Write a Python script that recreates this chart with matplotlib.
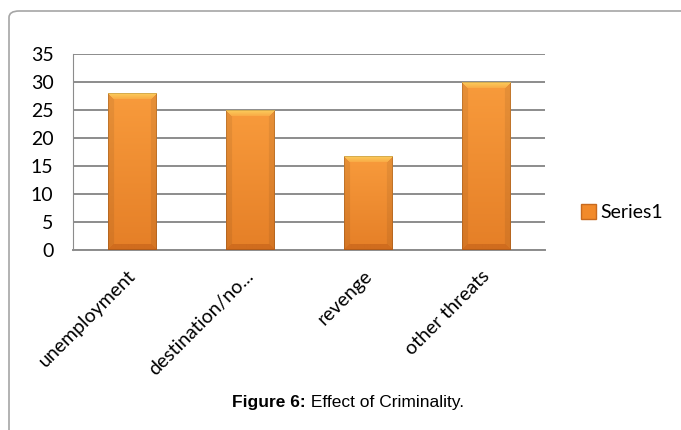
import numpy as np
import matplotlib
matplotlib.use("Agg")
import matplotlib.pyplot as plt
from matplotlib.patches import FancyBboxPatch
from matplotlib.transforms import offset_copy

categories = ["unemployment", "destination/no...", "revenge", "other threats"]
values = [28, 25, 16.7, 30]
series_name = "Series1"

W, H = 681, 430
fig = plt.figure(figsize=(W / 100, H / 100), dpi=100)
fig.patch.set_facecolor("white")

# outer rounded frame (runs off the right and bottom edge)
frame = FancyBboxPatch((9 / W, -0.2), 1.2, (H - 11) / H + 0.2,
                       boxstyle="round,pad=0,rounding_size=0.015",
                       transform=fig.transFigure, facecolor="none",
                       edgecolor="#A6A6A6", linewidth=1.2)
fig.patches.append(frame)

ax = fig.add_axes([73 / W, (H - 250) / H, 472 / W, 196 / H])
x = np.arange(len(categories))
bar_w = 0.41
bars = ax.bar(x, values, width=bar_w, color="#F28A2A", edgecolor="none",
              zorder=3, label=series_name)


def hexrgb(h):
    return np.array(matplotlib.colors.to_rgb(h))


def bevel_image(nx, ny, bev=6):
    # simple bevelled bar: light top, darker sides/bottom, vertical gradient
    img = np.zeros((ny, nx, 3))
    top_c, bot_c = hexrgb("#F89B3C"), hexrgb("#E57F27")
    for j in range(ny):
        t = j / max(ny - 1, 1)           # 0 = top
        img[j, :] = top_c * (1 - t) + bot_c * t
    jj, ii = np.mgrid[0:ny, 0:nx]
    d_top, d_bot = jj, ny - 1 - jj
    d_l, d_r = ii, nx - 1 - ii
    dmin = np.minimum(np.minimum(d_top, d_bot), np.minimum(d_l, d_r))
    m_top = (d_top == dmin) & (d_top < bev)
    m_bot = (d_bot == dmin) & (d_bot < bev) & ~m_top
    m_side = ((d_l == dmin) | (d_r == dmin)) & (dmin < bev) & ~m_top & ~m_bot
    img[m_side] = img[m_side] * 0.93
    img[m_bot] = hexrgb("#D06C1E")
    f = (d_top / bev)[..., None]
    img[m_top] = (hexrgb("#FCCB5C") * (1 - f) + hexrgb("#F9A843") * f)[m_top]
    # thin darker outline
    edge = dmin == 0
    img[edge] = img[edge] * 0.85
    return img


px_per_unit = 196 / 35
px_w = int(round(bar_w * 118))
for b in bars:
    x0, w, h = b.get_x(), b.get_width(), b.get_height()
    ny = int(round(h * px_per_unit))
    ax.imshow(bevel_image(px_w, ny), extent=(x0, x0 + w, 0, h), origin="upper",
              aspect="auto", zorder=3.5, interpolation="bilinear")

ax.set_xlim(-0.5, 3.5)
ax.set_ylim(0, 35)
ax.set_yticks(range(0, 36, 5))
ax.yaxis.grid(True, color="#8C8C8C", linewidth=1.4, zorder=0)
ax.set_axisbelow(True)
for s in ["top", "right"]:
    ax.spines[s].set_visible(False)
ax.spines["left"].set_color("#8C8C8C")
ax.spines["bottom"].set_color("#8C8C8C")
ax.spines["bottom"].set_linewidth(1.4)
ax.tick_params(axis="y", length=0, labelsize=14, pad=14)
for lab in ax.get_yticklabels():
    lab.set_fontfamily("Lato")

ax.set_xticks(x)
ax.set_xticklabels([])
ax.tick_params(axis="x", length=0)
for xi, name in zip(x, categories):
    tr = offset_copy(ax.get_xaxis_transform(), fig=fig, x=-5, y=-17, units="dots")
    ax.text(xi, 0, name, transform=tr, rotation=45, ha="right", va="top",
            rotation_mode="anchor", fontfamily="Lato", fontsize=14)

leg = ax.legend(loc="center left", bbox_to_anchor=(1.04, 0.19), frameon=False,
                prop={"family": "Lato", "size": 14}, handlelength=0.75,
                handleheight=0.75, handletextpad=0.25)
for hnd in leg.legend_handles:
    hnd.set_edgecolor("#C86A1E")

# caption: bold part + regular part, centred as a whole
fig.canvas.draw()
r = fig.canvas.get_renderer()
cy = 1 - 402 / H
t1 = fig.text(0, cy, "Figure 6:", fontweight="bold", fontsize=12.5,
              fontfamily="Liberation Sans", va="center")
t2 = fig.text(0, cy, " Effect of Criminality.", fontsize=12.5,
              fontfamily="Liberation Sans", va="center")
w1 = t1.get_window_extent(r).width
w2 = t2.get_window_extent(r).width
start = 348 - (w1 + w2) / 2
t1.set_x(start / W)
t2.set_x((start + w1) / W)

fig.savefig("out.png", dpi=100)
